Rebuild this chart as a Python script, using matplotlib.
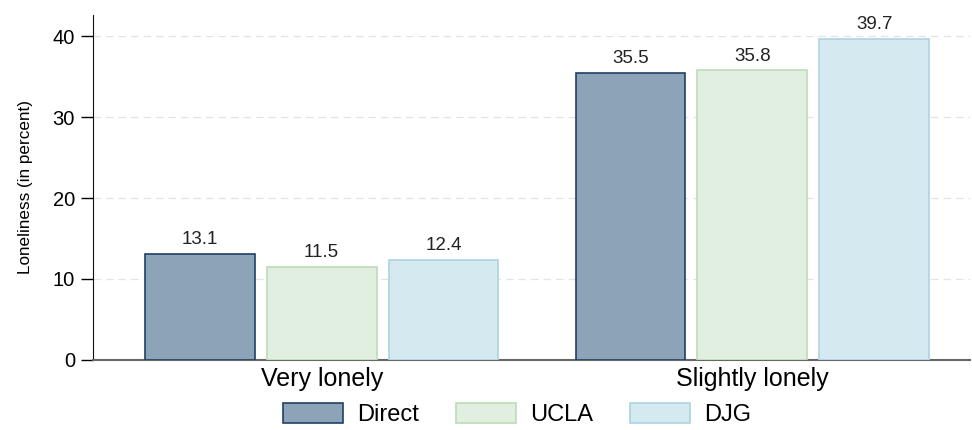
import matplotlib.pyplot as plt
import numpy as np

plt.rcParams['font.family'] = ['Liberation Sans', 'DejaVu Sans']

# -----------------------
# Data
# -----------------------
categories = ["Very lonely", "Slightly lonely"]
series = ["Direct", "UCLA", "DJG"]
direct = [13.1, 35.5]
ucla = [11.5, 35.8]
djg = [12.4, 39.7]

fills = ["#8ca3b8", "#e0efdf", "#d5e9f0"]
edges = ["#1f3f66", "#bcdcb6", "#acd4e2"]

# -----------------------
# Plot
# -----------------------
fig = plt.figure(figsize=(9.72, 4.3), dpi=100)
ax = fig.add_axes([0.0957, 0.163, 0.902, 0.802])

x = np.arange(len(categories))
offset = 0.283
width = 0.255
for i, (name, vals) in enumerate(zip(series, [direct, ucla, djg])):
    bars = ax.bar(x + (i - 1) * offset, vals, width, color=fills[i],
                  edgecolor=edges[i], linewidth=1.2, label=name, zorder=3)
    ax.bar_label(bars, labels=[f"{v:.1f}" for v in vals], padding=4,
                 fontsize=13.5, color="#222222")

ax.set_xlim(-0.531, 1.505)
ax.set_ylim(0, 42.6)
ax.set_yticks([0, 10, 20, 30, 40])
ax.set_xticks(x)
ax.set_xticklabels(categories, fontsize=18)
ax.tick_params(axis='y', labelsize=14.5, length=9, width=1, direction='out', pad=4)
ax.tick_params(axis='x', length=0, pad=5)
ax.set_ylabel("Loneliness (in percent)", fontsize=12.3, labelpad=14)

ax.yaxis.grid(True, linestyle=(0, (6, 4)), color="#e3e3e3", linewidth=0.9, zorder=0)
ax.spines['top'].set_visible(False)
ax.spines['right'].set_visible(False)
ax.spines['left'].set_color("#111111")
ax.spines['bottom'].set_color("#666666")
ax.spines['bottom'].set_linewidth(1.5)

fig.legend(loc='upper left', bbox_to_anchor=(0.291, 0.062), ncol=3, frameon=False,
           fontsize=17, handlelength=2.55, handleheight=0.9, columnspacing=1.55,
           handletextpad=0.6, borderpad=0, borderaxespad=0)

plt.savefig("out.png", dpi=100)
